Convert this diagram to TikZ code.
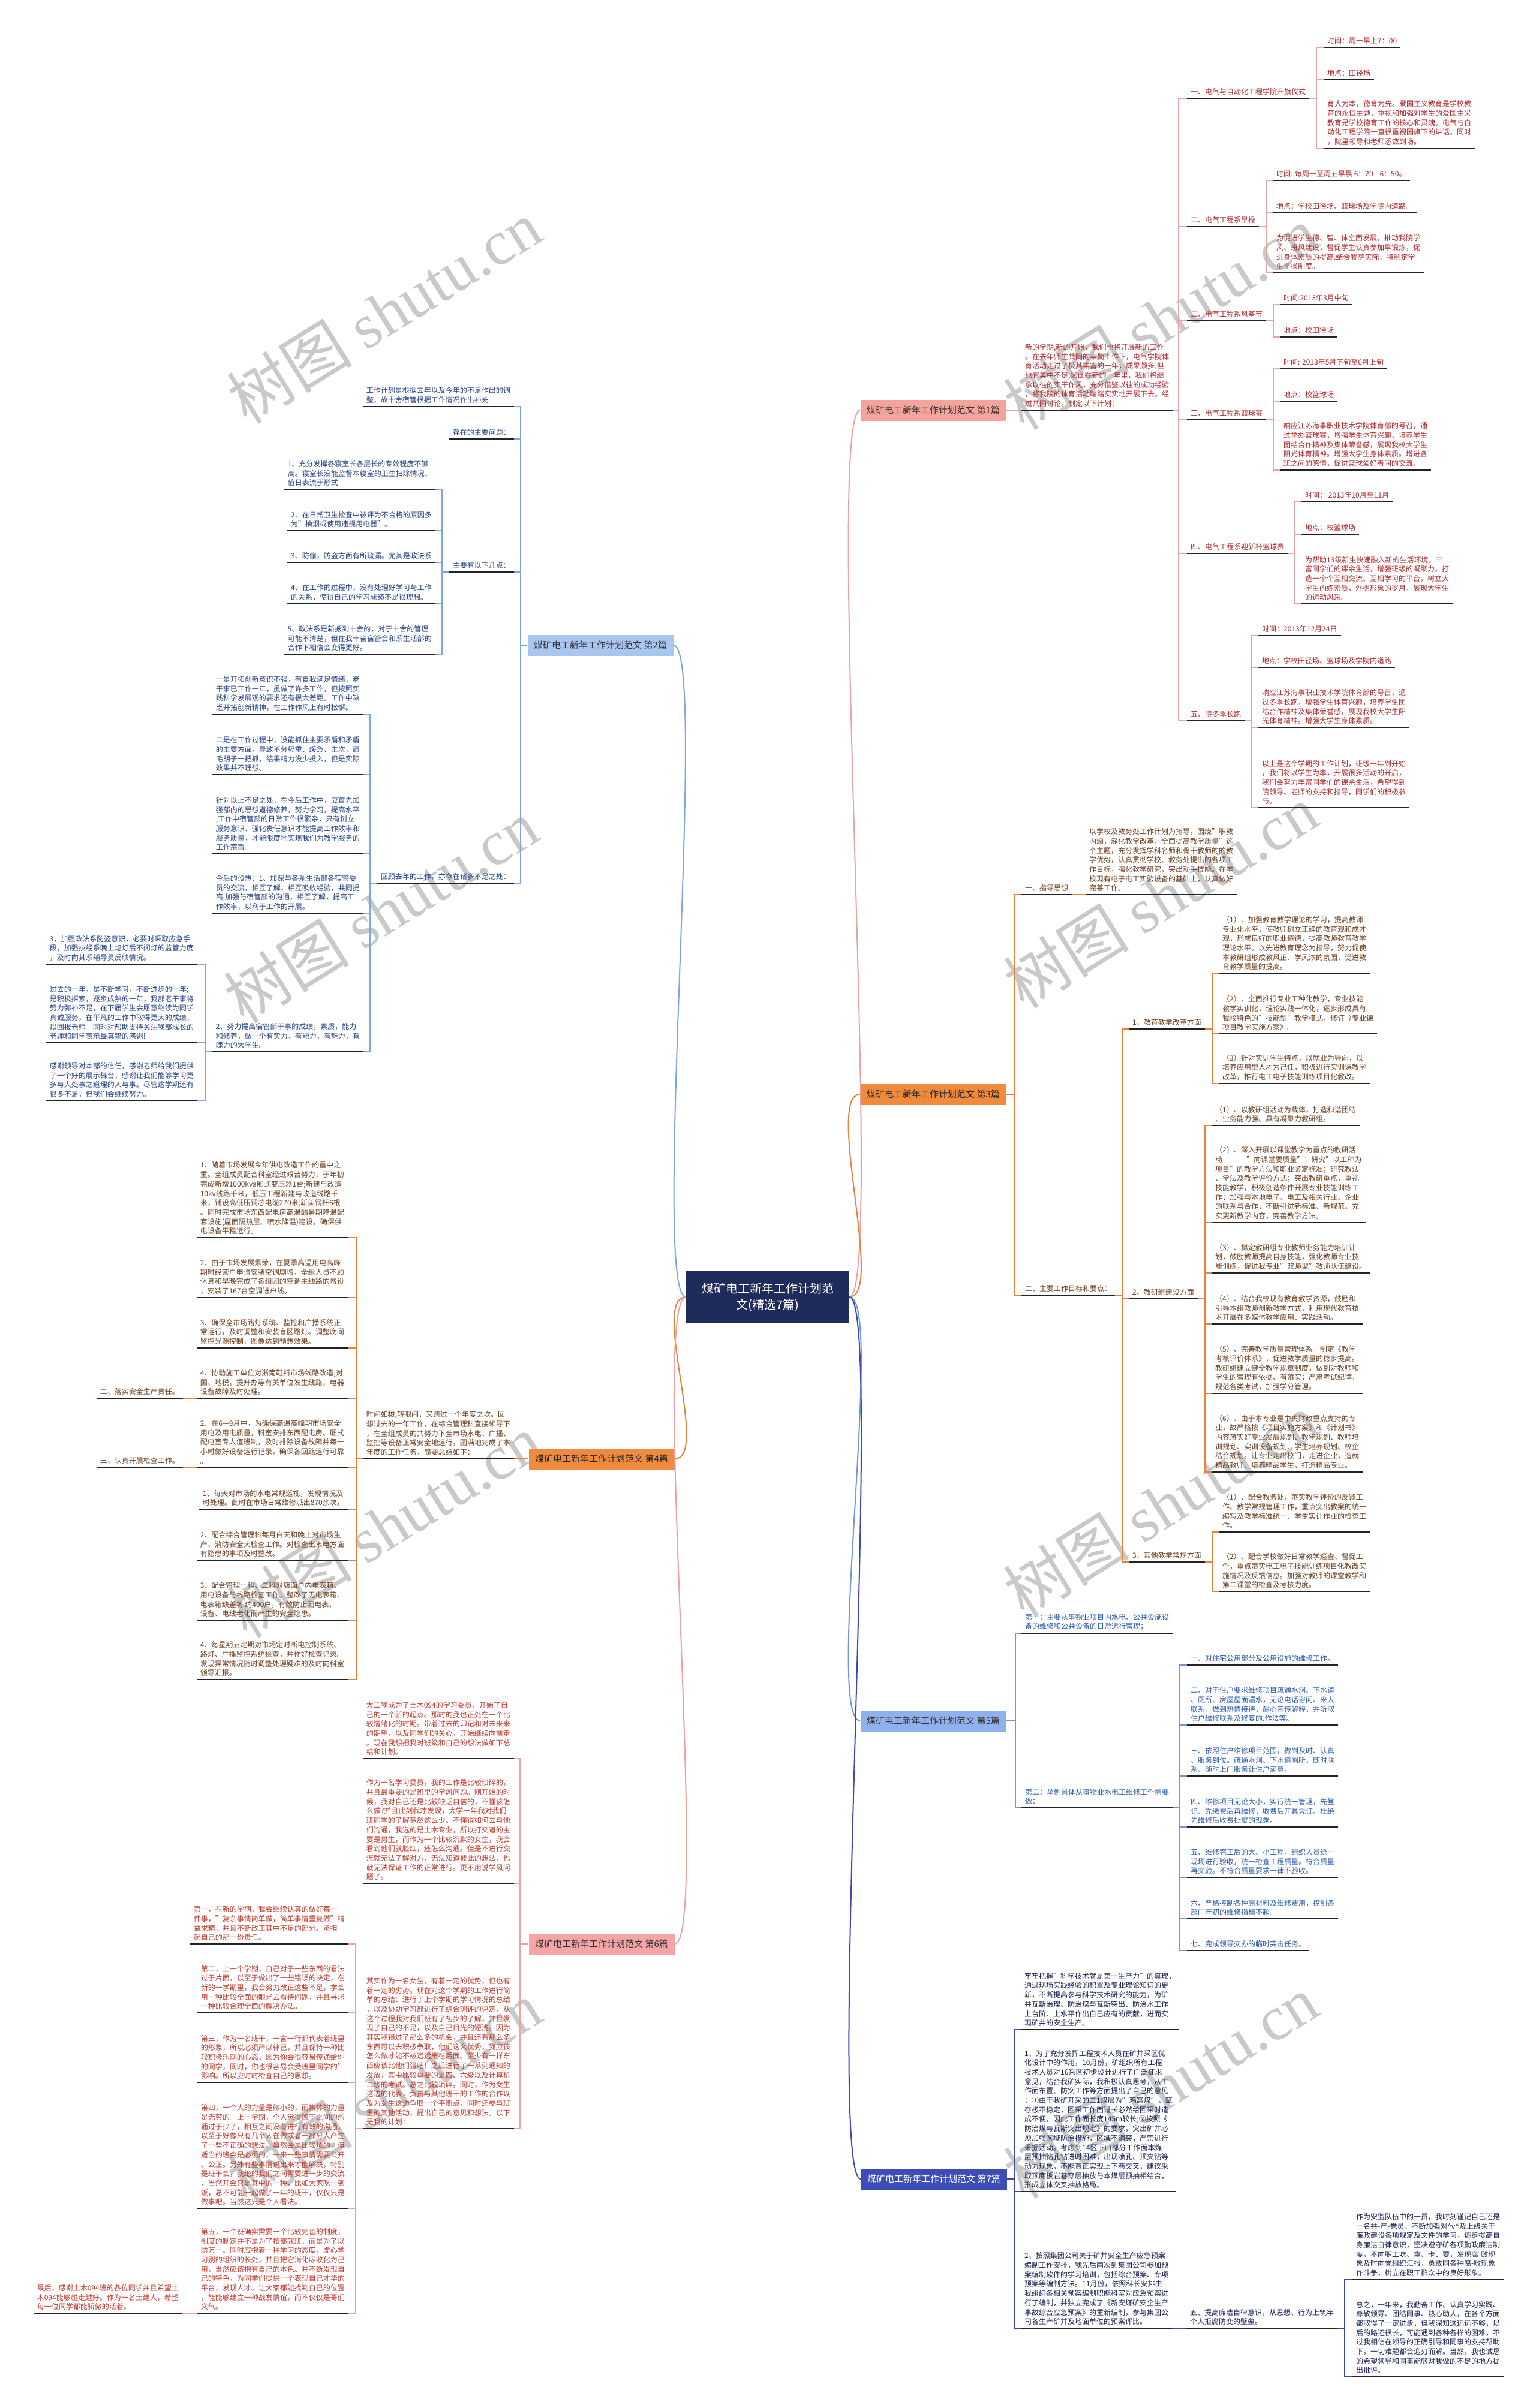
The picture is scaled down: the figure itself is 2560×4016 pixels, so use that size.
\documentclass[tikz,border=0pt]{standalone}
\usepackage{fontspec}
\setmainfont{Noto Sans CJK SC}
\newfontfamily\wmserif{Liberation Serif}
\definecolor{ulc}{HTML}{222222}
\definecolor{cA}{HTML}{E9A3A3}\definecolor{tA}{HTML}{B0282A}\definecolor{fA}{HTML}{F4A49C}
\definecolor{cB}{HTML}{7FA6E4}\definecolor{tB}{HTML}{244287}\definecolor{fB}{HTML}{A9C6F1}
\definecolor{cC}{HTML}{E9813A}\definecolor{tC}{HTML}{6E3D1E}\definecolor{fC}{HTML}{F08A3C}
\definecolor{cE}{HTML}{7097DB}\definecolor{tE}{HTML}{2B5BAA}\definecolor{fE}{HTML}{8FB2EE}
\definecolor{cF}{HTML}{EFA0A0}\definecolor{tF}{HTML}{C0392B}\definecolor{fF}{HTML}{F5A5A5}
\definecolor{cG}{HTML}{3E49B0}\definecolor{tG}{HTML}{1C2157}\definecolor{fG}{HTML}{3D4DB7}
\definecolor{root}{HTML}{1F2B5B}
\newcommand\fs{\fontsize{12}{15.7}\selectfont}
\tikzset{
  base/.style={font=\fs, align=left, inner xsep=6pt, inner ysep=5pt},
  R/.style={base, anchor=south west},
  L/.style={base, anchor=south east},
  ul/.style={draw=ulc, line width=2.4pt},
  bn/.style={minimum width=243pt, minimum height=35pt, inner sep=0pt, font=\fontsize{15}{18}\selectfont},
  wm/.style={rotate=32, text=black!21, font=\fontsize{105}{105}\selectfont},
}
\newcommand\ulin[1]{\draw[ul] (#1.south west) -- (#1.south east);}
\newcommand\RN[4]{\node[R] (#1) at (#2,#3) {#4}; \ulin{#1}}
\newcommand\LN[4]{\node[L] (#1) at (#2,#3) {#4}; \ulin{#1}}
\newcommand\conR[2]{\draw[conn] (#1.south east) -- ++(12,0) |- (#2.south west);}
\newcommand\conL[2]{\draw[conn] (#1.south west) -- ++(-12,0) |- (#2.south east);}
\begin{document}
\begin{tikzpicture}[x=1pt,y=-1pt]
\fill[white] (0,0) rectangle (2560,4016);
\useasboundingbox (0,0) rectangle (2560,4016);
% watermarks
\foreach \wx/\wy [count=\i] in {640/520,1935/530,635/1520,1935/1495,640/2545,1935/2510,640/3490,1935/3480}{
  \node[wm] (wm\i) at (\wx,\wy) {树图 {\wmserif shutu.cn}};
}
% root and branch nodes
\node[fill=root, text=white, minimum width=272pt, minimum height=87pt, align=center, font=\fontsize{20}{27}\selectfont] (c) at (1280,2163) {煤矿电工新年工作计划范\\文(精选7篇)};
\node[bn, fill=fA, text=black!80] (B1) at (1556,684) {煤矿电工新年工作计划范文 第1篇};
\node[bn, fill=fB, text=black!80] (B2) at (1001,1076) {煤矿电工新年工作计划范文 第2篇};
\node[bn, fill=fC, text=black!85] (B3) at (1556,1825) {煤矿电工新年工作计划范文 第3篇};
\node[bn, fill=fC, text=black!85] (B4) at (1003,2433) {煤矿电工新年工作计划范文 第4篇};
\node[bn, fill=fE, text=black!80] (B5) at (1556,2870) {煤矿电工新年工作计划范文 第5篇};
\node[bn, fill=fF, text=black!80] (B6) at (1003,3242) {煤矿电工新年工作计划范文 第6篇};
\node[bn, fill=fG, text=white] (B7) at (1557,3634) {煤矿电工新年工作计划范文 第7篇};
\draw[cA, line width=2pt] (c.east) .. controls +(60,0) and +(-60,0) .. (B1.west);
\draw[cC, line width=2pt] (c.east) .. controls +(60,0) and +(-60,0) .. (B3.west);
\draw[cE, line width=2pt] (c.east) .. controls +(60,0) and +(-60,0) .. (B5.west);
\draw[cG, line width=2pt] (c.east) .. controls +(60,0) and +(-60,0) .. (B7.west);
\draw[cB, line width=2pt] (c.west) .. controls +(-60,0) and +(60,0) .. (B2.east);
\draw[cC, line width=2pt] (c.west) .. controls +(-60,0) and +(60,0) .. (B4.east);
\draw[cF, line width=2pt] (c.west) .. controls +(-60,0) and +(60,0) .. (B6.east);

% ================= Branch 1 =================
\begin{scope}[every node/.append style={text=tA}, conn/.style={draw=cA, line width=2pt}]
\RN{b1i}{1703}{684}{新的学期,新的开始，我们也将开展新的工作\\。在去年师生共同的辛勤工作下，电气学院体\\育活动走过了极其丰富的一年，成果颇多,但\\也有美中不足,因此在新的一年里，我们将继\\承以往的实干作风，充分借鉴以往的成功经验\\，将我院的体育活动踏踏实实地开展下去。经\\过共同讨论，制定以下计划：}
\RN{b1a}{1979}{164}{一、电气与自动化工程学院升旗仪式}
\RN{b1a1}{2207}{79}{时间：周一早上7：00}
\RN{b1a2}{2207}{133}{地点：田径场}
\RN{b1a3}{2207}{247}{育人为本，德育为先。爱国主义教育是学校教\\育的永恒主题，重视和加强对学生的爱国主义\\教育是学校德育工作的核心和灵魂。电气与自\\动化工程学院一直很重视国旗下的讲话。同时\\，院里领导和老师悉数到场。}
\RN{b1b}{1979}{378}{二、电气工程系早操}
\RN{b1b1}{2122}{301}{时间: 每周一至周五早晨 6：20—6：50。}
\RN{b1b2}{2122}{355}{地点：学校田径场、篮球场及学院内道路。}
\RN{b1b3}{2122}{455}{为促进学生德、智、体全面发展，推动我院学\\风、班风建设，督促学生认真参加早锻炼，促\\进身体素质的提高.结合我院实际，特制定学\\生早操制度。}
\RN{b1c}{1979}{535}{二、电气工程系风筝节}
\RN{b1c1}{2134}{508}{时间:2013年3月中旬}
\RN{b1c2}{2134}{562}{地点：校田径场}
\RN{b1d}{1979}{700}{三、电气工程系篮球赛}
\RN{b1d1}{2134}{615}{时间: 2013年5月下旬至6月上旬}
\RN{b1d2}{2134}{669}{地点：校篮球场}
\RN{b1d3}{2134}{784}{响应江苏海事职业技术学院体育部的号召，通\\过举办篮球赛，增强学生体育兴趣，培养学生\\团结合作精神及集体荣誉感，展现我校大学生\\阳光体育精神。增强大学生身体素质。增进各\\班之间的感情，促进篮球爱好者间的交流。}
\RN{b1e}{1979}{923}{四、电气工程系迎新杯篮球赛}
\RN{b1e1}{2170}{837}{时间： 2013年10月至11月}
\RN{b1e2}{2170}{891}{地点：校篮球场}
\RN{b1e3}{2170}{1007}{为帮助13级新生快速融入新的生活环境，丰\\富同学们的课余生活，增强班级的凝聚力。打\\造一个个互相交流、互相学习的平台，树立大\\学生内练素质，外树形象的岁月，展现大学生\\的运动风采。}
\RN{b1f}{1979}{1202}{五、院冬季长跑}
\RN{b1f1}{2098}{1060}{时间：2013年12月24日}
\RN{b1f2}{2098}{1113}{地点：学校田径场、篮球场及学院内道路}
\RN{b1f3}{2098}{1213}{响应江苏海事职业技术学院体育部的号召，通\\过冬季长跑，增强学生体育兴趣，培养学生团\\结合作精神及集体荣誉感，展现我校大学生阳\\光体育精神。增强大学生身体素质。}
\RN{b1f4}{2098}{1347}{以上是这个学期的工作计划，班级一年到开始\\，我们将以学生为本，开展很多活动的开启，\\我们会努力丰富同学们的课余生活，希望得到\\院领导、老师的支持和指导，同学们的积极参\\与。}
\draw[conn] (B1.east) -- (b1i.south west);
\foreach \k in {b1a,b1b,b1c,b1d,b1e,b1f}{\draw[conn] (b1i.south east) -- ++(10,0) |- (\k.south west);}
\foreach \k in {b1a1,b1a2,b1a3}{\conR{b1a}{\k}}
\foreach \k in {b1b1,b1b2,b1b3}{\conR{b1b}{\k}}
\foreach \k in {b1c1,b1c2}{\conR{b1c}{\k}}
\foreach \k in {b1d1,b1d2,b1d3}{\conR{b1d}{\k}}
\foreach \k in {b1e1,b1e2,b1e3}{\conR{b1e}{\k}}
\foreach \k in {b1f1,b1f2,b1f3,b1f4}{\conR{b1f}{\k}}
\end{scope}

% ================= Branch 2 =================
\begin{scope}[every node/.append style={text=tB}, conn/.style={draw=cB, line width=2pt}]
\LN{b2a}{857}{678}{工作计划是根据去年以及今年的不足作出的调\\整，故十舍宿管根据工作情况作出补充}
\LN{b2b}{857}{732}{存在的主要问题：}
\LN{b2c}{857}{954}{主要有以下几点：}
\LN{b2c1}{726}{816}{1、充分发挥各寝室长各层长的专效程度不够\\高。寝室长没能监督本寝室的卫生扫除情况，\\值日表流于形式}
\LN{b2c2}{726}{885}{2、在日常卫生检查中被评为不合格的原因多\\为"抽烟或使用违规用电器"。}
\LN{b2c3}{726}{938}{ 3、防偷，防盗方面有所疏漏。尤其是政法系}
\LN{b2c4}{726}{1007}{4、在工作的过程中，没有处理好学习与工作\\的关系，使得自己的学习成绩不是很理想。}
\LN{b2c5}{726}{1091}{5、政法系是新搬到十舍的，对于十舍的管理\\可能不清楚，但在我十舍宿管会和系生活部的\\合作下相信会变得更好。}
\LN{b2d}{857}{1473}{回顾去年的工作，亦存在诸多不足之处：}
\LN{b2d1}{606}{1191}{一是开拓创新意识不强，有自我满足情绪，老\\干事已工作一年，虽做了许多工作，但按照实\\践科学发展观的要求还有很大差距。工作中缺\\乏开拓创新精神，在工作作风上有时松懈。}
\LN{b2d2}{606}{1292}{二是在工作过程中，没能抓住主要矛盾和矛盾\\的主要方面，导致不分轻重、缓急、主次，眉\\毛胡子一把抓，结果精力没少投入，但是实际\\效果并不理想。}
\LN{b2d3}{606}{1424}{针对以上不足之处，在今后工作中，应首先加\\强部内的思想道德修养，努力学习，提高水平\\;工作中宿管部的日常工作很繁杂，只有树立\\服务意识、强化责任意识才能提高工作效率和\\服务质量，才能限度地实现我们为教学服务的\\工作宗旨。}
\LN{b2d4}{606}{1523}{今后的设想：1、加深与各系生活部各宿管委\\员的交流，相互了解，相互吸收经验，共同提\\高;加强与宿管部的沟通，相互了解，提高工\\作效率，以利于工作的开展。}
\LN{b2d5}{606}{1754}{2、努力提高宿管部干事的成绩，素质，能力\\和修养，做一个有实力，有能力，有魅力，有\\魄力的大学生。}
\LN{b2e1}{329}{1608}{3，加强政法系防盗意识，必要时采取应急手\\段，加强技经系晚上熄灯后不闭灯的监管力度\\，及时向其系辅导员反映情况。}
\LN{b2e2}{329}{1739}{过去的一年，是不断学习，不断进步的一年;\\是积极探索，逐步成熟的一年，我部老干事将\\努力弥补不足，在下届学生会愿意继续为同学\\真诚服务，在平凡的工作中取得更大的成绩，\\以回报老师。同时对帮助支持关注我部成长的\\老师和同学表示最真挚的感谢!}
\LN{b2e3}{329}{1836}{感谢领导对本部的信任，感谢老师给我们提供\\了一个好的展示舞台，感谢让我们能够学习更\\多与人处事之道理的人与事。尽管这学期还有\\很多不足，但我们会继续努力。}
\foreach \k in {b2a,b2b,b2c,b2d}{\draw[conn] (B2.west) -- ++(-11,0) |- (\k.south east);}
\foreach \k in {b2c1,b2c2,b2c3,b2c4,b2c5}{\conL{b2c}{\k}}
\foreach \k in {b2d1,b2d2,b2d3,b2d4,b2d5}{\conL{b2d}{\k}}
\foreach \k in {b2e1,b2e2,b2e3}{\conL{b2d5}{\k}}
\end{scope}

% ================= Branch 3 =================
\begin{scope}[every node/.append style={text=tC}, conn/.style={draw=cC, line width=2pt}]
\RN{b3a}{1703}{1492}{一、指导思想}
\RN{b3a1}{1810}{1492}{以学校及教务处工作计划为指导，围绕"职教\\内涵，深化教学改革，全面提高教学质量"这\\个主题，充分发挥学科名师和骨干教师的的教\\学优势，认真贯彻学校、教务处提出的各项工\\作目标，强化教学研究，突出动手技能。在学\\校现有电子电工实验设备的基础上，认真做好\\完善工作。}
\RN{b3b}{1703}{2160}{二、主要工作目标和要点：}
\RN{b3c}{1882}{1716}{1、教育教学改革方面}
\RN{b3c1}{2032}{1623}{（1）、加强教育教学理论的学习，提高教师\\专业化水平，使教师树立正确的教育观和成才\\观，形成良好的职业道德，提高教师教育教学\\理论水平。以先进教育理念为指导，努力促使\\本教研组形成教风正、学风浓的氛围，促进教\\育教学质量的提高。}
\RN{b3c2}{2032}{1724}{（2）、全面推行专业工种化教学，专业技能\\教学实训化，理论实践一体化，逐步形成具有\\我校特色的"技能型"教学模式，修订《专业课\\项目教学实施方案》。}
\RN{b3c3}{2032}{1807}{（3）针对实训学生特点，以就业为导向，以\\培养应用型人才为己任，积极进行实训课教学\\改革，推行电工电子技能训练项目化教改。}
\RN{b3d}{1882}{2166}{2、教研组建设方面}
\RN{b3d1}{2020}{1877}{（1）、以教研组活动为载体，打造和谐团结\\、业务能力强、具有凝聚力教研组。}
\RN{b3d2}{2020}{2039}{（2）、深入开展以课堂教学为重点的教研活\\动————"向课堂要质量"；研究"以工种为\\项目"的教学方法和职业鉴定标准；研究教法\\、学法及教学评价方式；突出教研重点，重视\\技能教学，积极创造条件开展专业技能训练工\\作；加强与本地电子、电工及相关行业、企业\\的联系与合作，不断引进新标准、新规范，充\\实更新教学内容，完善教学方法。}
\RN{b3d3}{2020}{2123}{（3）、拟定教研组专业教师业务能力培训计\\划，鼓励教师提高自身技能，强化教师专业技\\能训练，促进我专业"双师型"教师队伍建设。}
\RN{b3d4}{2020}{2208}{（4）、结合我校现有教育教学资源，鼓励和\\引导本组教师创新教学方式，利用现代教育技\\术开展在多媒体教学应用、实践活动。}
\RN{b3d5}{2020}{2324}{（5）、完善教学质量管理体系。制定《教学\\考核评价体系》，促进教学质量的稳步提高。\\教研组建立健全教学规章制度，做到对教师和\\学生的管理有依据、有落实；严肃考试纪律，\\规范各类考试，加强学分管理。}
\RN{b3d6}{2020}{2455}{（6）、由于本专业是中央财政重点支持的专\\业，故严格按《项目实施方案》和《计划书》\\内容落实好专业发展规划、教学规划、教师培\\训规划、实训设备规划、学生培养规划、校企\\结合规划。让专业走出校门，走进企业，造就\\精品教师、培养精品学生，打造精品专业。}
\RN{b3e}{1882}{2605}{3、其他教学常规方面}
\RN{b3e1}{2032}{2555}{（1）、配合教务处，落实教学评价的反馈工\\作、教学常规管理工作，重点突出教案的统一\\编写及教学标准统一、学生实训作业的检查工\\作。}
\RN{b3e2}{2032}{2654}{（2）、配合学校做好日常教学巡查、督促工\\作，重点落实电工电子技能训练项目化教改实\\施情况及反馈信息。加强对教师的课堂教学和\\第二课堂的检查及考核力度。}
\foreach \k in {b3a,b3b}{\draw[conn] (B3.east) -- ++(14,0) |- (\k.south west);}
\draw[conn] (b3a.south east) -- (b3a1.south west);
\foreach \k in {b3c,b3d,b3e}{\conR{b3b}{\k}}
\foreach \k in {b3c1,b3c2,b3c3}{\conR{b3c}{\k}}
\foreach \k in {b3d1,b3d2,b3d3,b3d4,b3d5,b3d6}{\conR{b3d}{\k}}
\foreach \k in {b3e1,b3e2}{\conR{b3e}{\k}}
\end{scope}

% ================= Branch 4 =================
\begin{scope}[every node/.append style={text=tC}, conn/.style={draw=cC, line width=2pt}]
\LN{b4i}{857}{2433}{时间如梭,转眼间，又跨过一个年度之坎。回\\想过去的一年工作，在综合管理科直接领导下\\，在全组成员的共努力下全市场水电、广播、\\监控等设备正常安全地运行，圆满地完成了本\\年度的工作任务，简要总结如下：}
\LN{b4a}{580}{2064}{1、随着市场发展今年供电改造工作的重中之\\重。全组成员配合科室经过艰苦努力，于年初\\完成新增1000kva厢式变压器1台;新建与改造\\10kv线路千米，低压工程新建与改造线路千\\米，铺设高低压铜芯电缆270米;新架钢杆6根\\。同时完成市场东西配电房高温酷暑期降温配\\套设施(屋面隔热层、喷水降温)建设，确保供\\电设备平稳运行。}
\LN{b4b}{580}{2164}{2、由于市场发展繁荣，在夏季高温用电高峰\\期时经营户申请安装空调剧增，全组人员不顾\\休息和早晚完成了各组团的空调主线路的增设\\，安装了167台空调进户线。}
\LN{b4c}{580}{2248}{3、确保全市场路灯系统、监控和广播系统正\\常运行，及时调整和安装盲区路灯。调整晚间\\监控光源控制，图像达到预想效果。}
\LN{b4d}{580}{2332}{4、协助施工单位对浙南鞋料市场线路改造;对\\国、地税，提升办等有关单位发生线路，电器\\设备故障及时处理。}
\LN{b4d1}{305}{2332}{二、落实安全生产责任。}
\LN{b4e}{580}{2447}{2、在6—9月中，为确保高温高峰期市场安全\\用电及用电质量，科室安排东西配电房、厢式\\配电室专人值班制，及时排除设备故障并每一\\小时做好设备运行记录，确保各回路运行可靠\\。}
\LN{b4e1}{305}{2447}{三、认真开展检查工作。}
\LN{b4f}{580}{2517}{1、每天对市场的水电常规巡视，发现情况及\\时处理。此时在市场日常维修派出870余次。}
\LN{b4g}{580}{2602}{2、配合综合管理科每月白天和晚上对市场生\\产、消防安全大检查工作。对检查出水电方面\\有隐患的事项及时整改。}
\LN{b4h}{580}{2702}{3、配合管理一科、二科对店面户内电表箱、\\用电设备与线路检查工作。整改了无电表箱、\\电表箱缺盖将 约400户，有效防止因电表、\\设备、电线老化而产生的安全隐患。}
\LN{b4j}{580}{2801}{4、每星期五定期对市场定时断电控制系统、\\路灯、广播监控系统检查，并作好检查记录。\\发现异常情况随时调整处理疑难的及时向科室\\领导汇报。}
\draw[conn] (B4.west) -- (b4i.south east);
\foreach \k in {b4a,b4b,b4c,b4d,b4e,b4f,b4g,b4h,b4j}{\draw[conn] (b4i.south west) -- ++(-11,0) |- (\k.south east);}
\draw[conn] (b4d.south west) -- (b4d1.south east);
\draw[conn] (b4e.south west) -- (b4e1.south east);
\end{scope}

% ================= Branch 5 =================
\begin{scope}[every node/.append style={text=tE}, conn/.style={draw=cE, line width=2pt}]
\RN{b5a}{1703}{2724}{第一：主要从事物业项目内水电、公共设施设\\备的维修和公共设备的日常运行管理；}
\RN{b5b}{1703}{3015}{第二：举例具体从事物业水电工维修工作需要\\做：}
\RN{b5b1}{1979}{2777}{一、对住宅公用部分及公用设施的维修工作。}
\RN{b5b2}{1979}{2877}{二、对于住户要求维修项目疏通水洞、下水道\\、厕所、房屋屋面漏水，无论电话咨问、来人\\联系，做到热情接待，耐心宣传解释，并听取\\住户维修联系及修复的.作法等。}
\RN{b5b3}{1979}{2962}{三、依照住户维修项目范围，做到及时、认真\\、服务到位。疏通水洞、下水道厕所，随时联\\系、随时上门服务让住户满意。}
\RN{b5b4}{1979}{3047}{四、维修项目无论大小，实行统一管理，先登\\记、先缴费后再维修，收费后开具凭证。杜绝\\先维修后收费扯皮的现象。}
\RN{b5b5}{1979}{3131}{五、维修完工后的大、小工程，组织人员统一\\现场进行验收，统一检查工程质量。符合质量\\再交验。不符合质量要求一律不验收。}
\RN{b5b6}{1979}{3200}{六、严格控制各种原材料及维修费用，控制各\\部门年初的维修指标不超。}
\RN{b5b7}{1979}{3253}{七、完成领导交办的临时突击任务。}
\foreach \k in {b5a,b5b}{\draw[conn] (B5.east) -- ++(15,0) |- (\k.south west);}
\foreach \k in {b5b1,b5b2,b5b3,b5b4,b5b5,b5b6,b5b7}{\conR{b5b}{\k}}
\end{scope}

% ================= Branch 6 =================
\begin{scope}[every node/.append style={text=tF}, conn/.style={draw=cF, line width=2pt}]
\LN{b6a}{857}{2933}{大二我成为了土木094的学习委员，开始了自\\己的一个新的起点。那时的我也正处在一个比\\较情绪化的时期。带着过去的印记和对未来来\\的期望，以及同学们的关心，开始继续向前走\\。现在我想把我对班级和自己的想法做如下总\\结和计划。}
\LN{b6b}{857}{3141}{作为一名学习委员，我的工作是比较琐碎的，\\并且最重要的是班里的学风问题。刚开始的时\\候，我对自己还是比较缺乏自信的，不懂该怎\\么做?并且此刻我才发现，大学一年我对我们\\班同学的了解竟然这么少。不懂得如何去与他\\们沟通，我选的是土木专业，所以打交道的主\\要是男生，而作为一个比较沉默的女生，我会\\看到他们就脸红，还怎么沟通。但是不进行交\\流就无法了解对方，无法知道彼此的想法，也\\就无法保证工作的正常进行。更不用说学风问\\题了。}
\LN{b6c}{857}{3550}{其实作为一名女生，有着一定的优势，但也有\\着一定的劣势。现在对这个学期的工作进行简\\单的总结：进行了上个学期的学习情况的总结\\，以及协助学习部进行了综合测评的评定，从\\这个过程我对我们班有了初步的了解，并且发\\现了自己的不足，以及自己目光的短浅。因为\\其实我错过了那么多的机会，并且还有那么多\\东西可以去积极争取，他们这么优秀，我应该\\怎么做才能不被远远甩在后面。至少有一样东\\西应该比他们强吧！之后进行了一系列通知的\\发放，其中比较重要的是四、六级以及计算机\\二级的考试。总之比较琐碎。同时，作为女生\\这边的代表，负责与其他班干的工作的合作以\\及为女生这边争取一个平衡点，同时还参与班\\里的其他活动，提出自己的意见和想法。以下\\是我的计划：}
\LN{b6c1}{581}{3242}{第一，在新的学期，我会继续认真的做好每一\\件事，"复杂事情简单做，简单事情重复做"精\\益求精，并且不断改正其中不足的部分。承担\\起自己的那一份责任。}
\LN{b6c2}{581}{3357}{第二，上一个学期，自己对于一些东西的看法\\过于片面，以至于做出了一些错误的决定，在\\新的一学期里，我会努力改正这些不足，学会\\用一种比较全面的眼光去看待问题，并且寻求\\一种比较合理全面的解决办法。}
\LN{b6c3}{581}{3473}{第三，作为一名班干，一言一行都代表着班里\\的形象，所以必须严以律己，并且保持一种比\\较积极乐观的心态，因为你会很容易传递给你\\的同学，同时，你也很容易会受班里同学的'\\影响。所以应时时检查自己的思想。}
\LN{b6c4}{581}{3683}{第四，一个人的力量是微小的，而集体的力量\\是无穷的。上一学期，个人觉得班干之间的沟\\通过于少了，相互之间没有进行有效的沟通，\\以至于好像只有几个人在做或者一部分人产生\\了一些不正确的想法。虽然会是比较烦的，但\\适当的班会是必须的，一来一些事情需要公开\\、公正。另外有些事情说出来才能解决，特别\\是班干会，我绝的我们之间需要进一步的交流\\，当然开会只是其中的一种，比如大家吃一顿\\饭，总不可能一起做了一年的班干，仅仅只是\\做事吧。当然这只是个人看法。}
\LN{b6c5}{581}{3858}{第五，一个班确实需要一个比较完善的制度，\\制度的制定并不是为了按部就班，而是为了以\\防万一。同时应抱着一种学习的态度，虚心学\\习别的组织的长处，并且把它消化吸收化为己\\用，当然应该抱有自己的本色。并不断发现自\\己的特色，为同学们提供一个表现自己才华的\\平台，发现人才。让大家都能找到自己的位置\\，能能够建立一种战友情谊，而不仅仅是哥们\\义气。}
\LN{b6c5a}{304}{3858}{最后，感谢土木094班的各位同学并且希望土\\木094能够越走越好。作为一名土建人，希望\\每一位同学都能骄傲的活着。}
\foreach \k in {b6a,b6b,b6c}{\draw[conn] (B6.west) -- ++(-14,0) |- (\k.south east);}
\foreach \k in {b6c1,b6c2,b6c3,b6c4,b6c5}{\conL{b6c}{\k}}
\draw[conn] (b6c5.south west) -- (b6c5a.south east);
\end{scope}

% ================= Branch 7 =================
\begin{scope}[every node/.append style={text=tG}, conn/.style={draw=cG, line width=2pt}]
\RN{b7a}{1702}{3385}{牢牢把握"科学技术就是第一生产力"的真理，\\通过现场实践经验的积累及专业理论知识的更\\新，不断提高参与科学技术研究的能力，为矿\\井瓦斯治理、防治煤与瓦斯突出、防治水工作\\上台阶、上水平作出自己应有的贡献，进而实\\现矿井的安全生产。}
\RN{b7b}{1702}{3655}{1、为了充分发挥工程技术人员在矿井采区优\\化设计中的作用，10月份，矿组织所有工程\\技术人员对16采区初步设计进行了广泛征求\\意见，结合我矿实际，我积极认真思考，从工\\作面布置、防突工作等方面提出了自己的意见\\：①由于我矿开采的二1煤层为"鸡窝煤"，赋\\存极不稳定，回采工作面过长必然给回采时造\\成不便，因此工作面长度145m较长;②按照《\\防治煤与瓦斯突出规定》的要求，突出矿井必\\须加强区域防治措施，区域不消突，严禁进行\\采掘活动。考虑到14区下山部分工作面本煤\\层预抽钻孔钻进时困难，出现喷孔、顶夹钻等\\动力现象，不能真正实现上下巷交叉，建议采\\取顶底板岩巷穿层抽放与本煤层预抽相结合，\\形成立体交叉抽放格局。}
\RN{b7c}{1702}{3883}{2、按照集团公司关于矿井安全生产应急预案\\编制工作安排，我先后两次到集团公司参加预\\案编制软件的学习培训，包括综合预案、专项\\预案等编制方法。11月份，依照科长安排由\\我组织各相关预案编制职能科室对应急预案进\\行了编制，并独立完成了《新安煤矿安全生产\\事故综合应急预案》的重新编制，参与集团公\\司各生产矿井及地面单位的预案评比。}
\RN{b7d}{1978}{3883}{五、提高廉洁自律意识，从思想、行为上筑牢\\个人拒腐防变的壁垒。}
\RN{b7d1}{2255}{3802}{作为安监队伍中的一员，我时刻谨记自己还是\\一名共-产-党员，不断加强对\textasciicircum{}v\textasciicircum{}及上级关于\\廉政建设各项规定及文件的学习，逐步提高自\\身廉洁自律意识，坚决遵守矿各项勤政廉洁制\\度，不向职工吃、拿、卡、要，发现腐-败现\\象及时向党组织汇报，勇敢同各种腐-败现象\\作斗争，树立在职工群众中的良好形象。}
\RN{b7d2}{2255}{3964}{总之，一年来，我勤奋工作、认真学习实践、\\尊敬领导、团结同事、热心助人，在各个方面\\都取得了一定进步，但我深知这远远不够，以\\后的路还很长，可能遇到各种各样的困难，不\\过我相信在领导的正确引导和同事的支持帮助\\下，一切难题都会迎刃而解。当然，我也诚恳\\的希望领导和同事能够对我做的不足的地方提\\出批评。}
\foreach \k in {b7a,b7b,b7c}{\draw[conn] (B7.east) -- ++(12,0) |- (\k.south west);}
\draw[conn] (b7c.south east) -- (b7d.south west);
\foreach \k in {b7d1,b7d2}{\conR{b7d}{\k}}
\end{scope}
\end{tikzpicture}
\end{document}
